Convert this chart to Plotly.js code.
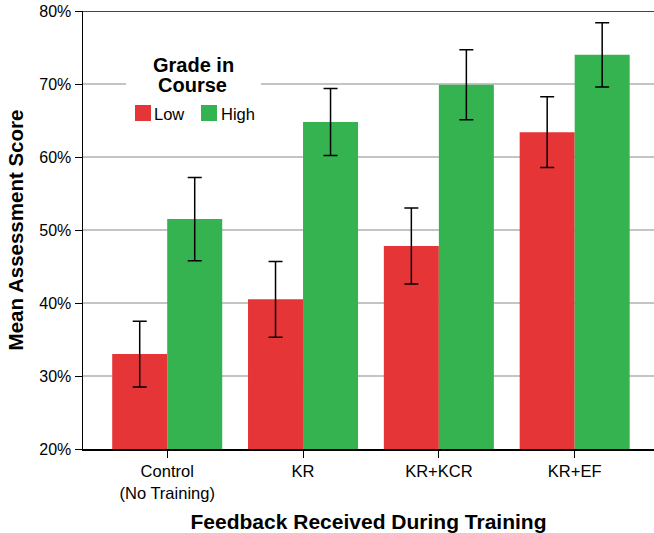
<!DOCTYPE html>
<html>
<head>
<meta charset="utf-8">
<script src="https://cdn.plot.ly/plotly-3.0.1.min.js"></script>
<style>html,body{margin:0;padding:0;background:#fff;}#chart{width:654px;height:533px;}</style>
</head>
<body>
<div id="chart"></div>
<script>
const categories = ["Control<br>(No Training)", "KR", "KR+KCR", "KR+EF"];
const lowMeans = [33.0, 40.5, 47.8, 63.4];
const lowErr = [4.5, 5.2, 5.2, 4.85];
const highMeans = [51.5, 64.8, 69.9, 74.0];
const highErr = [5.7, 4.6, 4.8, 4.4];
const seriesNames = ["Low", "High"];
const legendTitle = ["Grade in", "Course"];
const yTickVals = [20, 30, 40, 50, 60, 70, 80];
const yTickText = ["20%", "30%", "40%", "50%", "60%", "70%", "80%"];

const RED = "#e63537";
const GREEN = "#34b350";
const FONT = "Liberation Sans, Arial, sans-serif";

// plot area geometry (pixels) for placing the hand-built legend
const W = 654, H = 533, ML = 83, MR = 0, MT = 11, MB = 84;
const px = v => (v - ML) / (W - ML - MR);
const py = v => (H - MB - v) / (H - MT - MB);

const errStyle = {type: "data", visible: true, color: "#000", thickness: 1.5, width: 7};

const traces = [
  {type: "bar", name: seriesNames[0], x: categories, y: lowMeans,
   marker: {color: RED}, hoverinfo: "y",
   error_y: Object.assign({array: lowErr}, errStyle)},
  {type: "bar", name: seriesNames[1], x: categories, y: highMeans,
   marker: {color: GREEN}, hoverinfo: "y",
   error_y: Object.assign({array: highErr}, errStyle)}
];

const legendShapes = [
  {type: "rect", xref: "paper", yref: "paper", layer: "above",
   x0: px(126), x1: px(261), y0: py(130), y1: py(46),
   fillcolor: "#fff", line: {width: 0}},
  {type: "rect", xref: "paper", yref: "paper", layer: "above",
   x0: px(135), x1: px(151), y0: py(121), y1: py(105),
   fillcolor: RED, line: {width: 0}},
  {type: "rect", xref: "paper", yref: "paper", layer: "above",
   x0: px(201), x1: px(217), y0: py(121), y1: py(105),
   fillcolor: GREEN, line: {width: 0}}
];

const legendAnn = [
  {text: "<b>" + legendTitle[0] + "</b>", x: px(193), y: py(64.5), xanchor: "center", yanchor: "middle",
   font: {family: FONT, size: 20, color: "#000"}},
  {text: "<b>" + legendTitle[1] + "</b>", x: px(192.5), y: py(85), xanchor: "center", yanchor: "middle",
   font: {family: FONT, size: 20, color: "#000"}},
  {text: seriesNames[0], x: px(153), y: py(114), xanchor: "left", yanchor: "middle",
   font: {family: FONT, size: 16.5, color: "#000"}},
  {text: seriesNames[1], x: px(219.5), y: py(114), xanchor: "left", yanchor: "middle",
   font: {family: FONT, size: 16.5, color: "#000"}}
].map(a => Object.assign({xref: "paper", yref: "paper", showarrow: false, borderpad: 0}, a));

const layout = {
  width: W, height: H,
  margin: {l: ML, r: MR, t: MT, b: MB, pad: 0},
  paper_bgcolor: "#fff", plot_bgcolor: "#fff",
  font: {family: FONT, size: 16, color: "#000"},
  showlegend: false,
  barmode: "group", bargap: 0.19, bargroupgap: 0,
  xaxis: {
    type: "category", range: [-0.62, 3.584],
    showgrid: false, zeroline: false,
    showline: true, linecolor: "#000", linewidth: 1.5,
    ticks: "outside", ticklen: 7, tickwidth: 1, tickcolor: "#000",
    tickfont: {family: FONT, size: 16.5, color: "#000"},
    title: {text: "Feedback Received During Training", standoff: 16,
            font: {family: FONT, size: 21, color: "#000", weight: "bold"}}
  },
  yaxis: {
    range: [20, 80], tickmode: "array", tickvals: yTickVals, ticktext: yTickText,
    showgrid: true, gridcolor: "#c4c4c4", gridwidth: 1.5,
    zeroline: false,
    showline: true, linecolor: "#000", linewidth: 1.5,
    ticks: "outside", ticklen: 7, tickwidth: 1, tickcolor: "#000",
    tickfont: {family: FONT, size: 16, color: "#000"},
    title: {text: "Mean Assessment Score", standoff: 10,
            font: {family: FONT, size: 20.5, color: "#000", weight: "bold"}}
  },
  shapes: [
    {type: "line", xref: "paper", yref: "y", x0: 0, x1: 1, y0: 80, y1: 80,
     line: {color: "#444", width: 2}}
  ].concat(legendShapes),
  annotations: legendAnn
};

Plotly.newPlot("chart", traces, layout, {displayModeBar: false, staticPlot: true});
</script>
</body>
</html>
